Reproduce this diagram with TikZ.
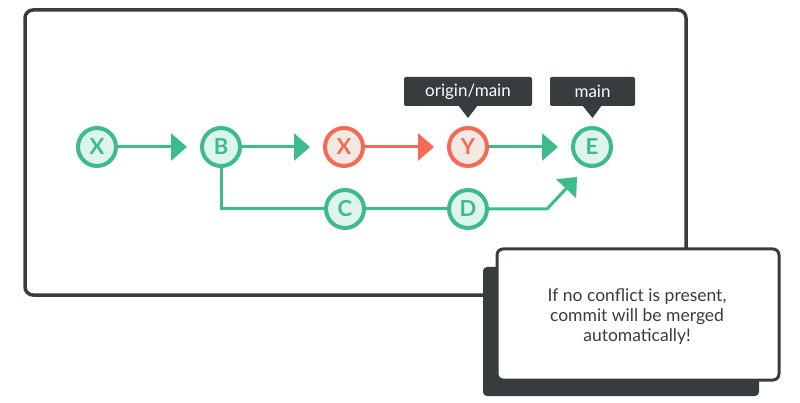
\documentclass[tikz,border=0pt]{standalone}
\usepackage{fontspec}
\setmainfont{Lato}
\usetikzlibrary{arrows.meta,shapes.geometric}
\definecolor{gr}{HTML}{3DBB8B}
\definecolor{grfill}{HTML}{DDF5EC}
\definecolor{rd}{HTML}{F56A55}
\definecolor{rdfill}{HTML}{F3E9E3}
\definecolor{dk}{HTML}{373D3F}
\tikzset{
  commit/.style={circle,draw=gr,fill=grfill,line width=4pt,minimum size=38pt,inner sep=0pt,
    text=gr,font=\fontsize{22}{22}\selectfont\bfseries},
  redcommit/.style={commit,draw=rd,fill=rdfill,text=rd},
  conn/.style={draw=gr,line width=3pt},
  tip/.style={-{Triangle[length=16pt,width=27pt,fill=#1]}},
  arr/.style={conn,tip=gr,shorten >=13pt},
  redarr/.style={conn,draw=rd,tip=rd,shorten >=13pt},
  tag/.style={fill=dk,text=white,rounded corners=2pt,inner sep=0pt,
    font=\fontsize{17}{17}\selectfont},
  frame/.style={draw=dk,line width=3.5pt,rounded corners=8pt}
}
\begin{document}
\begin{tikzpicture}[x=1pt,y=-1pt]
\useasboundingbox (0,0) rectangle (800,403);
% main frame
\draw[frame,fill=white] (25,10) rectangle (686,295);
% commits
\node[commit] (X1) at (97,147) {X};
\node[commit] (B) at (221,147) {B};
\node[redcommit] (X2) at (344,147) {X};
\node[redcommit] (Y) at (468,147) {Y};
\node[commit] (E) at (592,147) {E};
\node[commit] (C) at (345,209) {C};
\node[commit] (D) at (468,209) {D};
% connectors
\draw[arr] (X1) -- (B);
\draw[arr] (B) -- (X2);
\draw[redarr] (X2) -- (Y);
\draw[arr] (Y) -- (E);
\coordinate (corner) at (221,209);
\coordinate (bend) at (547,209);
\coordinate (tipE) at (577,177);
\draw[conn] (B) -- (corner) -- (C);
\draw[conn] (C) -- (D);
\draw[conn,tip=gr] (D) -- (bend) -- (tipE);
% tags
\node[tag,minimum width=128pt,minimum height=29pt] (om) at (468,91.5) {origin/main};
\fill[dk] (458,105) -- (478,105) -- (468,118) -- cycle;
\node[tag,minimum width=85pt,minimum height=29pt] (mn) at (592.5,91.5) {main};
\fill[dk] (582,105) -- (602,105) -- (592.5,118) -- cycle;
% note box
\fill[dk,rounded corners=4pt] (483,267) rectangle (759,396);
\draw[draw=dk,fill=white,line width=3pt,rounded corners=6pt] (497,249) rectangle (779,380);
\node[align=center,text=dk,font=\fontsize{17.5}{20}\selectfont] (note) at (637,317)
  {If no conflict is present,\\commit will be merged\\automatically!};
\end{tikzpicture}
\end{document}
